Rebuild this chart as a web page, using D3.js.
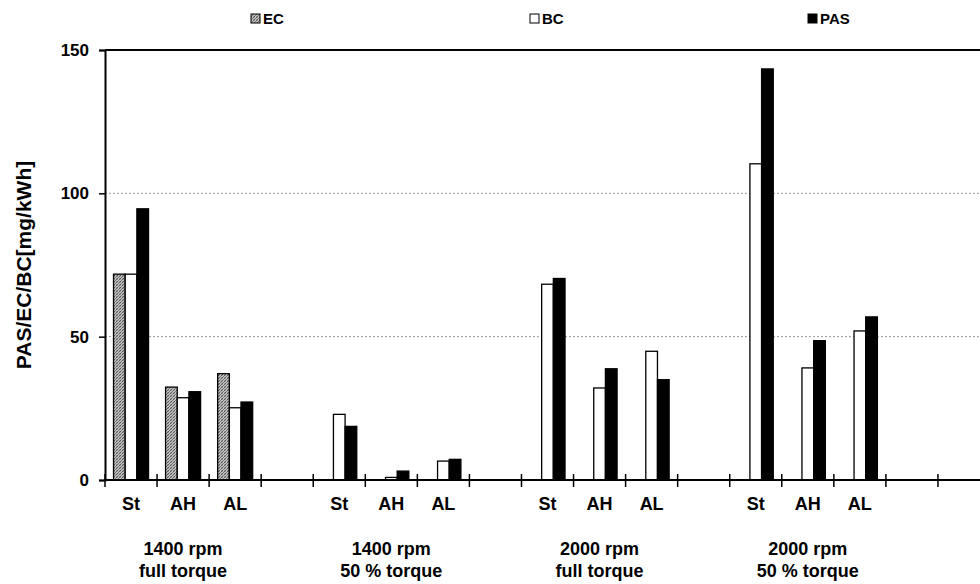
<!DOCTYPE html>
<html>
<head>
<meta charset="utf-8">
<script src="https://cdn.jsdelivr.net/npm/d3@7"></script>
<style>
  body { margin: 0; background: #fff; }
  text { font-family: "Liberation Sans", Arial, sans-serif; font-weight: bold; fill: #000; }
</style>
</head>
<body>
<svg id="chart" width="980" height="584"></svg>
<script>
// sub-categories repeated inside each operating point
const subCats = ['St', 'AH', 'AL'];
// operating points (two text lines each)
const groups = [
  ['1400 rpm', 'full torque'],
  ['1400 rpm', '50 % torque'],
  ['2000 rpm', 'full torque'],
  ['2000 rpm', '50 % torque']
];
const seriesNames = ['EC', 'BC', 'PAS'];
// values in mg/kWh, St/AH/AL per group
const ecValues  = [71.8, 32.4, 37.1, null, null, null, null, null, null, null, null, null];
const bcValues  = [71.8, 28.7, 25.2, 22.9, 0.9, 6.6, 68.3, 32.1, 44.9, 110.3, 39.1, 52.0];
const pasValues = [94.6, 30.8, 27.2, 18.7, 3.1, 7.2, 70.3, 38.8, 35.0, 143.4, 48.6, 56.9];
const yTicks = [0, 50, 100, 150];

const svg = d3.select('#chart');
const margin = {left: 105, top: 50, bottom: 104};
const height = 584 - margin.top - margin.bottom;
const step = 52.06;

// one slot per bar group plus one empty slot after each group, and a trailing one
const slots = [];
groups.forEach((g, gi) => {
  subCats.forEach((c, ci) => slots.push({key: gi + '-' + ci, label: c, group: gi, idx: gi * 3 + ci}));
  slots.push({key: gi + '-gap', label: '', group: gi, idx: -1});
});
slots.push({key: 'end', label: '', group: -1, idx: -1});

const x = d3.scaleBand()
  .domain(slots.map(d => d.key))
  .range([margin.left, margin.left + step * slots.length])
  .padding(0);

const xs = d3.scaleBand()
  .domain(seriesNames)
  .range([0, x.bandwidth()])
  .paddingInner(0)
  .paddingOuter(0.73);

const y = d3.scaleLinear()
  .domain([0, 150])
  .range([margin.top + height, margin.top]);

// EC hatch pattern (grey cross-hatch)
const defs = svg.append('defs');
const pat = defs.append('pattern')
  .attr('id', 'hatch')
  .attr('patternUnits', 'userSpaceOnUse')
  .attr('width', 3).attr('height', 3);
pat.append('rect').attr('width', 3).attr('height', 3).attr('fill', '#c4c4c4');
pat.append('path')
  .attr('d', 'M0,3 L3,0 M-1,1 L1,-1 M2,4 L4,2')
  .attr('stroke', '#4a4a4a').attr('stroke-width', 0.9);
pat.append('path')
  .attr('d', 'M0,0 L3,3')
  .attr('stroke', '#8a8a8a').attr('stroke-width', 0.6);

const fills = {EC: 'url(#hatch)', BC: '#fff', PAS: '#000'};

// gridlines
svg.append('g')
  .selectAll('line')
  .data(yTicks.filter(t => t > 0 && t < 150))
  .join('line')
    .attr('x1', margin.left).attr('x2', 980)
    .attr('y1', d => y(d)).attr('y2', d => y(d))
    .attr('stroke', '#999')
    .attr('stroke-width', 1)
    .attr('stroke-dasharray', '2,2');

svg.append('line')
  .attr('x1', margin.left).attr('x2', 980)
  .attr('y1', y(150)).attr('y2', y(150))
  .attr('stroke', '#000').attr('stroke-width', 2);

// bars
const barData = [];
slots.filter(s => s.idx >= 0).forEach(s => {
  [ecValues, bcValues, pasValues].forEach((vals, si) => {
    const v = vals[s.idx];
    if (v != null) barData.push({slot: s.key, series: seriesNames[si], value: v});
  });
});

svg.append('g')
  .selectAll('rect')
  .data(barData)
  .join('rect')
    .attr('x', d => x(d.slot) + xs(d.series))
    .attr('width', xs.bandwidth())
    .attr('y', d => y(d.value))
    .attr('height', d => y(0) - y(d.value))
    .attr('fill', d => fills[d.series])
    .attr('stroke', '#000')
    .attr('stroke-width', 1.3);

// x axis with crossing ticks at slot boundaries
const xAxis = svg.append('g');
xAxis.append('line')
  .attr('x1', margin.left).attr('x2', 980)
  .attr('y1', y(0)).attr('y2', y(0))
  .attr('stroke', '#000').attr('stroke-width', 2);
xAxis.selectAll('line.tick')
  .data(slots)
  .join('line')
    .attr('class', 'tick')
    .attr('x1', d => x(d.key)).attr('x2', d => x(d.key))
    .attr('y1', y(0) - 6).attr('y2', y(0) + 7)
    .attr('stroke', '#000').attr('stroke-width', 1.5);
xAxis.selectAll('text.cat')
  .data(slots.filter(s => s.label))
  .join('text')
    .attr('class', 'cat')
    .attr('x', d => x(d.key) + x.bandwidth() / 2)
    .attr('y', y(0) + 30)
    .attr('text-anchor', 'middle')
    .attr('font-size', 18)
    .text(d => d.label);

const groupLabels = xAxis.selectAll('text.grp')
  .data(groups)
  .join('text')
    .attr('class', 'grp')
    .attr('text-anchor', 'middle')
    .attr('font-size', 18)
    .attr('transform', (d, i) => {
      const first = x(i + '-0'), last = x(i + '-2') + x.bandwidth();
      return `translate(${(first + last) / 2},${y(0) + 75})`;
    });
groupLabels.selectAll('tspan')
  .data(d => d)
  .join('tspan')
    .attr('x', 0)
    .attr('dy', (d, i) => i ? 22 : 0)
    .text(d => d);

// y axis
const yAxis = svg.append('g')
  .attr('transform', `translate(${margin.left},0)`)
  .call(d3.axisLeft(y).tickValues(yTicks).tickSize(6).tickPadding(10));
yAxis.select('.domain').attr('stroke-width', 2);
yAxis.selectAll('.tick line').attr('stroke-width', 1.5);
yAxis.selectAll('.tick text')
  .attr('font-size', 17)
  .attr('font-family', '"Liberation Sans", Arial, sans-serif')
  .attr('font-weight', 'bold')
  .attr('fill', '#000');

svg.append('text')
  .attr('transform', `translate(31,${y(75)}) rotate(-90)`)
  .attr('text-anchor', 'middle')
  .attr('font-size', 21)
  .text('PAS/EC/BC[mg/kWh]');

// legend
const legendX = [251, 530, 808];
const leg = svg.append('g')
  .selectAll('g')
  .data(seriesNames)
  .join('g')
    .attr('transform', (d, i) => `translate(${legendX[i]},14)`);
leg.append('rect')
  .attr('width', 9).attr('height', 9)
  .attr('fill', d => fills[d])
  .attr('stroke', '#000').attr('stroke-width', 1);
leg.append('text')
  .attr('x', 12).attr('y', 9.5)
  .attr('font-size', 15)
  .text(d => d);
</script>
</body>
</html>
